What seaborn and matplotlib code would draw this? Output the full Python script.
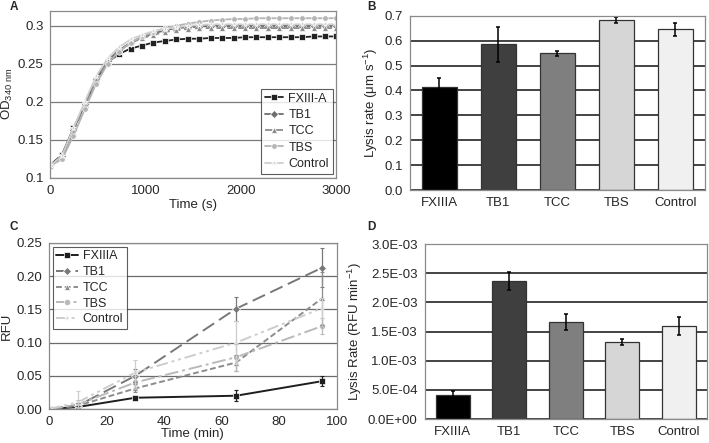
import matplotlib
matplotlib.use("Agg")
import matplotlib.pyplot as plt
import matplotlib.ticker as mticker
import numpy as np
import pandas as pd
import seaborn as sns

sns.set_style("white")
plt.rcParams['font.family'] = ['Liberation Sans', 'DejaVu Sans']
plt.rcParams['font.size'] = 9.5
plt.rcParams['mathtext.fontset'] = 'custom'
plt.rcParams['mathtext.rm'] = 'Liberation Sans'
plt.rcParams['mathtext.it'] = 'Liberation Sans:italic'

FS = 9.5

# ---- Panel A: turbidity curves ----
time_s = [0, 120, 240, 360, 480, 600, 720, 840, 960, 1080, 1200, 1320, 1440,
          1560, 1680, 1800, 1920, 2040, 2160, 2280, 2400, 2520, 2640, 2760, 2880, 3000]
od_fxiii = [0.117, 0.130, 0.165, 0.196, 0.229, 0.252, 0.263, 0.270, 0.274, 0.278, 0.280,
            0.282, 0.283, 0.283, 0.284, 0.284, 0.284, 0.285, 0.285, 0.285, 0.285, 0.285,
            0.285, 0.286, 0.286, 0.286]
od_tb1 = [0.116, 0.128, 0.163, 0.197, 0.230, 0.254, 0.268, 0.278, 0.285, 0.290, 0.294,
          0.297, 0.298, 0.299, 0.300, 0.300, 0.300, 0.300, 0.300, 0.300, 0.300, 0.300,
          0.300, 0.300, 0.300, 0.300]
od_tcc = [0.115, 0.127, 0.160, 0.195, 0.229, 0.253, 0.267, 0.277, 0.284, 0.288, 0.292,
          0.294, 0.296, 0.297, 0.297, 0.297, 0.297, 0.297, 0.297, 0.297, 0.297, 0.297,
          0.297, 0.297, 0.297, 0.297]
od_tbs = [0.116, 0.124, 0.155, 0.190, 0.224, 0.250, 0.266, 0.278, 0.286, 0.292, 0.297,
          0.300, 0.303, 0.305, 0.307, 0.308, 0.309, 0.309, 0.310, 0.310, 0.310, 0.310,
          0.310, 0.310, 0.310, 0.310]
od_ctrl = [0.116, 0.129, 0.165, 0.200, 0.234, 0.257, 0.272, 0.282, 0.288, 0.293, 0.296,
           0.298, 0.300, 0.301, 0.302, 0.302, 0.302, 0.302, 0.302, 0.302, 0.302, 0.302,
           0.302, 0.302, 0.302, 0.302]
series_a = ['FXIII-A', 'TB1', 'TCC', 'TBS', 'Control']

# ---- Panel B: lysis rate ----
groups = ['FXIIIA', 'TB1', 'TCC', 'TBS', 'Control']
lysis_rate = [0.413, 0.585, 0.550, 0.682, 0.645]
lysis_err = [0.035, 0.070, 0.010, 0.013, 0.025]

# ---- Panel C: RFU over time ----
time_min = [0, 10, 30, 65, 95]
rfu_fxiiia = [0.0, 0.003, 0.017, 0.020, 0.042]
rfu_fxiiia_err = [0.0, 0.002, 0.003, 0.008, 0.008]
rfu_tb1 = [0.0, 0.005, 0.050, 0.151, 0.213]
rfu_tb1_err = [0.0, 0.004, 0.010, 0.018, 0.030]
rfu_tcc = [0.0, 0.005, 0.031, 0.070, 0.167]
rfu_tcc_err = [0.0, 0.004, 0.006, 0.012, 0.040]
rfu_tbs = [0.0, 0.007, 0.040, 0.078, 0.125]
rfu_tbs_err = [0.0, 0.006, 0.010, 0.020, 0.012]
rfu_ctrl = [0.0, 0.010, 0.055, 0.100, 0.152]
rfu_ctrl_err = [0.0, 0.017, 0.019, 0.032, 0.015]
series_c = ['FXIIIA', 'TB1', 'TCC', 'TBS', 'Control']

# ---- Panel D: lysis rate RFU ----
lysis_rfu = [4.2e-4, 2.37e-3, 1.67e-3, 1.32e-3, 1.60e-3]
lysis_rfu_err = [0.6e-4, 0.15e-3, 0.14e-3, 0.05e-3, 0.15e-3]

bar_colors = ['#000000', '#3f3f3f', '#7f7f7f', '#d6d6d6', '#f0f0f0']
line_colors = ['#222222', '#6e6e6e', '#8c8c8c', '#b4b4b4', '#cfcfcf']
markers = ['s', 'D', '^', 'o', '*']

fig = plt.figure(figsize=(7.09, 4.43), dpi=100)
axA = fig.add_axes([0.0712, 0.599, 0.4034, 0.377])
axB = fig.add_axes([0.578, 0.571, 0.416, 0.3936])
axC = fig.add_axes([0.069, 0.0767, 0.406, 0.3748])
axD = fig.add_axes([0.599, 0.054, 0.398, 0.395])


def frame(ax, grid_color, grid_lw):
    for s in ax.spines.values():
        s.set_color('#8a8a8a')
        s.set_linewidth(0.9)
    ax.yaxis.grid(True, color=grid_color, linewidth=grid_lw)
    ax.xaxis.grid(False)
    ax.set_axisbelow(True)
    ax.tick_params(axis='both', labelsize=FS, length=3, color='#555555', pad=2)


# A
dfA = pd.DataFrame({'time': time_s * 5,
                    'od': od_fxiii + od_tb1 + od_tcc + od_tbs + od_ctrl,
                    'series': sum([[n] * len(time_s) for n in series_a], [])})
styles_a = {'FXIII-A': '', 'TB1': '', 'TCC': (4, 2), 'TBS': '', 'Control': ''}
sns.lineplot(data=dfA, x='time', y='od', hue='series', style='series',
             palette=dict(zip(series_a, line_colors)), dashes=styles_a,
             markers=dict(zip(series_a, markers)), markersize=4, linewidth=1.3,
             markeredgewidth=0.5, ax=axA)
axA.set_xlim(0, 3000)
axA.set_ylim(0.1, 0.32)
axA.set_yticks([0.1, 0.15, 0.2, 0.25, 0.3])
axA.set_yticklabels(['0.1', '0.15', '0.2', '0.25', '0.3'])
axA.set_xticks([0, 1000, 2000, 3000])
axA.set_xlabel('Time (s)', fontsize=FS, labelpad=2)
axA.set_ylabel('OD$_{340\\ \\mathrm{nm}}$', fontsize=FS, labelpad=2)
frame(axA, '#7a7a7a', 0.9)
legA = axA.legend(loc='lower right', fontsize=FS - 0.5, frameon=True, fancybox=False,
                  edgecolor='#333333', handlelength=1.5, borderpad=0.3,
                  labelspacing=0.35, handletextpad=0.4, borderaxespad=0.3)
legA.get_frame().set_linewidth(0.8)

# B
dfB = pd.DataFrame({'group': groups, 'rate': lysis_rate})
sns.barplot(data=dfB, x='group', y='rate', hue='group', palette=bar_colors,
            legend=False, width=0.6, edgecolor='#333333', linewidth=0.9, ax=axB)
axB.errorbar(range(len(groups)), lysis_rate, yerr=lysis_err, fmt='none',
             ecolor='black', elinewidth=1.1, capsize=1.5, capthick=1.1)
axB.set_ylim(0, 0.7)
axB.set_xlim(-0.5, 4.5)
axB.set_yticks(np.arange(0, 0.71, 0.1))
axB.yaxis.set_major_formatter(mticker.FormatStrFormatter('%.1f'))
axB.set_xlabel('')
axB.set_ylabel('Lysis rate (\u03bcm s$^{-1}$)', fontsize=FS, labelpad=3)
frame(axB, '#111111', 1.1)
axB.tick_params(axis='x', length=0, pad=5)
axB.set_xticks(np.arange(-0.5, 5, 1), minor=True)
axB.tick_params(axis='x', which='minor', length=3, color='#555555')

# C
dfC = pd.DataFrame({'time': time_min * 5,
                    'rfu': rfu_fxiiia + rfu_tb1 + rfu_tcc + rfu_tbs + rfu_ctrl,
                    'series': sum([[n] * len(time_min) for n in series_c], [])})
styles_c = {'FXIIIA': '', 'TB1': (7, 3), 'TCC': (3, 1.5), 'TBS': (7, 2, 1.5, 2),
            'Control': (6, 2, 1.5, 2, 1.5, 2)}
line_colors_c = ['#1e1e1e', '#787878', '#8c8c8c', '#b9b9b9', '#cdcdcd']
sns.lineplot(data=dfC, x='time', y='rfu', hue='series', style='series',
             palette=dict(zip(series_c, line_colors_c)), dashes=styles_c,
             markers=dict(zip(series_c, markers)), markersize=4.5, linewidth=1.4,
             markeredgewidth=0.5, ax=axC)
errs_c = [rfu_fxiiia_err, rfu_tb1_err, rfu_tcc_err, rfu_tbs_err, rfu_ctrl_err]
vals_c = [rfu_fxiiia, rfu_tb1, rfu_tcc, rfu_tbs, rfu_ctrl]
for v, e, c in zip(vals_c, errs_c, line_colors_c):
    axC.errorbar(time_min, v, yerr=e, fmt='none', ecolor=c, elinewidth=0.9,
                 capsize=1.5, capthick=0.8)
axC.set_xlim(0, 100)
axC.set_ylim(0, 0.25)
axC.yaxis.set_major_formatter(mticker.FormatStrFormatter('%.2f'))
axC.set_xticks([0, 20, 40, 60, 80, 100])
axC.set_xlabel('Time (min)', fontsize=FS, labelpad=0)
axC.set_ylabel('RFU', fontsize=FS, labelpad=2)
frame(axC, '#6a6a6a', 0.9)
legC = axC.legend(loc='upper left', fontsize=FS - 0.5, frameon=True, fancybox=False,
                  edgecolor='#333333', handlelength=1.7, borderpad=0.3,
                  labelspacing=0.3, handletextpad=0.4, borderaxespad=0.3)
legC.get_frame().set_linewidth(0.8)

# D
dfD = pd.DataFrame({'group': groups, 'rate': lysis_rfu})
sns.barplot(data=dfD, x='group', y='rate', hue='group', palette=bar_colors,
            legend=False, width=0.6, edgecolor='#333333', linewidth=0.9, ax=axD)
axD.errorbar(range(len(groups)), lysis_rfu, yerr=lysis_rfu_err, fmt='none',
             ecolor='black', elinewidth=1.1, capsize=1.5, capthick=1.1)
axD.set_ylim(0, 3.0e-3)
axD.set_xlim(-0.5, 4.5)
axD.set_yticks(np.arange(0, 3.01e-3, 5e-4))
axD.yaxis.set_major_formatter(mticker.FuncFormatter(lambda v, p: '%.1E' % v))
axD.set_xlabel('')
axD.set_ylabel('Lysis Rate (RFU min$^{-1}$)', fontsize=FS, labelpad=3)
frame(axD, '#111111', 1.1)
axD.tick_params(axis='x', length=0, pad=5)
axD.set_xticks(np.arange(-0.5, 5, 1), minor=True)
axD.tick_params(axis='x', which='minor', length=3, color='#555555')

# panel letters
for lab, x, y in [('A', 0.013, 0.985), ('B', 0.518, 0.985),
                  ('C', 0.013, 0.488), ('D', 0.518, 0.488)]:
    fig.text(x, y, lab, fontsize=8.5, fontweight='bold', va='center', ha='left')

fig.savefig('out.png', dpi=100)
